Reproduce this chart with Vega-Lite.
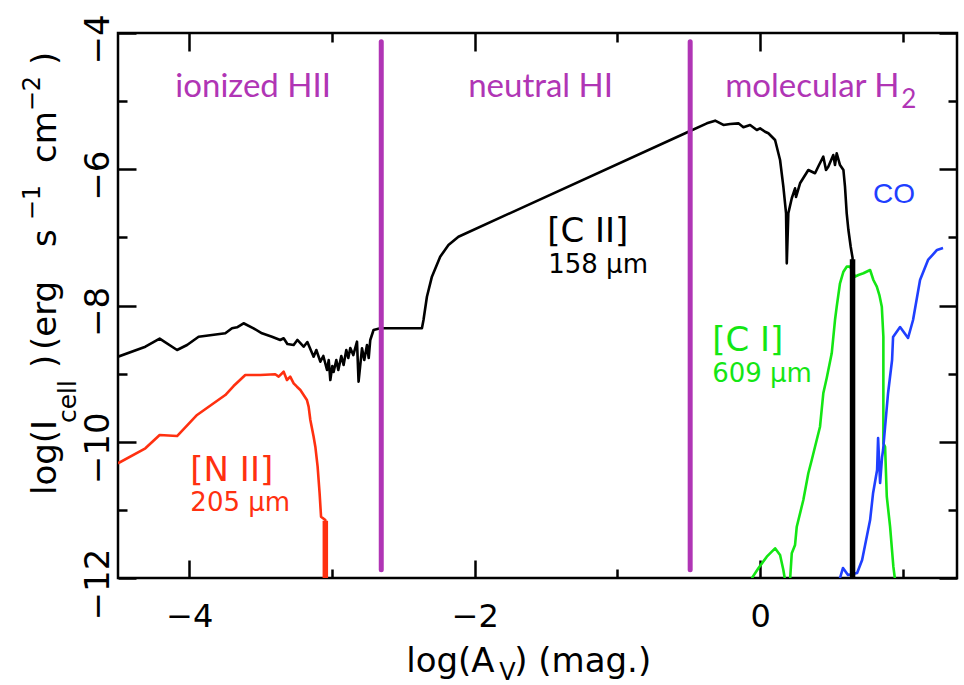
{
  "$schema": "https://vega.github.io/schema/vega-lite/v6.json",
  "width": 839,
  "height": 545,
  "autosize": "none",
  "padding": {"left": 118, "top": 33, "right": 7, "bottom": 107},
  "background": "white",
  "config": {"view": {"stroke": "black", "strokeWidth": 2.5}},
  "datasets": {
    "curves": [
      {"s":"CII","x":-4.5,"y":-8.751},{"s":"CII","x":-4.308,"y":-8.605},{"s":"CII","x":-4.208,"y":-8.487},{"s":"CII","x":-4.086,"y":-8.653},{"s":"CII","x":-4.016,"y":-8.58},{"s":"CII","x":-3.935,"y":-8.458},{"s":"CII","x":-3.748,"y":-8.408},{"s":"CII","x":-3.701,"y":-8.335},{"s":"CII","x":-3.666,"y":-8.32},{"s":"CII","x":-3.62,"y":-8.261},{"s":"CII","x":-3.55,"y":-8.335},{"s":"CII","x":-3.491,"y":-8.408},{"s":"CII","x":-3.421,"y":-8.458},{"s":"CII","x":-3.363,"y":-8.506},{"s":"CII","x":-3.339,"y":-8.481},{"s":"CII","x":-3.313,"y":-8.565},{"s":"CII","x":-3.269,"y":-8.58},{"s":"CII","x":-3.243,"y":-8.506},{"s":"CII","x":-3.199,"y":-8.605},{"s":"CII","x":-3.173,"y":-8.536},{"s":"CII","x":-3.129,"y":-8.751},{"s":"CII","x":-3.11,"y":-8.653},{"s":"CII","x":-3.082,"y":-8.825},{"s":"CII","x":-3.061,"y":-8.741},{"s":"CII","x":-3.035,"y":-8.947},{"s":"CII","x":-3.023,"y":-8.8},{"s":"CII","x":-3.012,"y":-9.094},{"s":"CII","x":-2.998,"y":-8.888},{"s":"CII","x":-2.989,"y":-8.976},{"s":"CII","x":-2.97,"y":-8.8},{"s":"CII","x":-2.956,"y":-8.947},{"s":"CII","x":-2.935,"y":-8.741},{"s":"CII","x":-2.919,"y":-8.873},{"s":"CII","x":-2.9,"y":-8.653},{"s":"CII","x":-2.886,"y":-8.771},{"s":"CII","x":-2.872,"y":-8.624},{"s":"CII","x":-2.851,"y":-8.727},{"s":"CII","x":-2.825,"y":-8.531},{"s":"CII","x":-2.814,"y":-9.119},{"s":"CII","x":-2.79,"y":-8.628},{"s":"CII","x":-2.774,"y":-8.8},{"s":"CII","x":-2.755,"y":-8.58},{"s":"CII","x":-2.743,"y":-8.771},{"s":"CII","x":-2.732,"y":-8.506},{"s":"CII","x":-2.709,"y":-8.36},{"s":"CII","x":-2.662,"y":-8.335},{"s":"CII","x":-2.37,"y":-8.335},{"s":"CII","x":-2.359,"y":-8.213},{"s":"CII","x":-2.335,"y":-7.871},{"s":"CII","x":-2.3,"y":-7.577},{"s":"CII","x":-2.242,"y":-7.284},{"s":"CII","x":-2.184,"y":-7.112},{"s":"CII","x":-2.114,"y":-6.99},{"s":"CII","x":-0.502,"y":-5.449},{"s":"CII","x":-0.373,"y":-5.326},{"s":"CII","x":-0.315,"y":-5.287},{"s":"CII","x":-0.257,"y":-5.35},{"s":"CII","x":-0.21,"y":-5.336},{"s":"CII","x":-0.152,"y":-5.326},{"s":"CII","x":-0.117,"y":-5.384},{"s":"CII","x":-0.07,"y":-5.35},{"s":"CII","x":-0.023,"y":-5.424},{"s":"CII","x":0.0,"y":-5.399},{"s":"CII","x":0.035,"y":-5.449},{"s":"CII","x":0.058,"y":-5.472},{"s":"CII","x":0.105,"y":-5.571},{"s":"CII","x":0.14,"y":-5.864},{"s":"CII","x":0.163,"y":-6.256},{"s":"CII","x":0.182,"y":-6.647},{"s":"CII","x":0.187,"y":-7.381},{"s":"CII","x":0.198,"y":-6.647},{"s":"CII","x":0.222,"y":-6.426},{"s":"CII","x":0.245,"y":-6.28},{"s":"CII","x":0.252,"y":-6.407},{"s":"CII","x":0.28,"y":-6.206},{"s":"CII","x":0.338,"y":-6.011},{"s":"CII","x":0.385,"y":-6.059},{"s":"CII","x":0.413,"y":-5.938},{"s":"CII","x":0.443,"y":-5.816},{"s":"CII","x":0.462,"y":-6.011},{"s":"CII","x":0.478,"y":-5.963},{"s":"CII","x":0.513,"y":-5.791},{"s":"CII","x":0.525,"y":-5.938},{"s":"CII","x":0.537,"y":-5.766},{"s":"CII","x":0.56,"y":-5.938},{"s":"CII","x":0.584,"y":-6.011},{"s":"CII","x":0.595,"y":-6.256},{"s":"CII","x":0.607,"y":-6.647},{"s":"CII","x":0.619,"y":-6.892},{"s":"CII","x":0.635,"y":-7.137},{"s":"CII","x":0.648,"y":-7.3},{"s":"CII","x":0.648,"y":-12.1},
      {"s":"NII","x":-4.5,"y":-10.316},{"s":"NII","x":-4.308,"y":-10.096},{"s":"NII","x":-4.208,"y":-9.901},{"s":"NII","x":-4.086,"y":-9.916},{"s":"NII","x":-3.946,"y":-9.607},{"s":"NII","x":-3.748,"y":-9.314},{"s":"NII","x":-3.69,"y":-9.182},{"s":"NII","x":-3.608,"y":-9.02},{"s":"NII","x":-3.503,"y":-9.02},{"s":"NII","x":-3.398,"y":-9.01},{"s":"NII","x":-3.374,"y":-9.045},{"s":"NII","x":-3.339,"y":-8.972},{"s":"NII","x":-3.316,"y":-9.094},{"s":"NII","x":-3.293,"y":-9.045},{"s":"NII","x":-3.269,"y":-9.142},{"s":"NII","x":-3.246,"y":-9.192},{"s":"NII","x":-3.222,"y":-9.24},{"s":"NII","x":-3.199,"y":-9.314},{"s":"NII","x":-3.176,"y":-9.387},{"s":"NII","x":-3.164,"y":-9.485},{"s":"NII","x":-3.152,"y":-9.681},{"s":"NII","x":-3.129,"y":-9.926},{"s":"NII","x":-3.117,"y":-10.073},{"s":"NII","x":-3.101,"y":-10.366},{"s":"NII","x":-3.087,"y":-10.757},{"s":"NII","x":-3.077,"y":-11.1},{"s":"NII","x":-3.047,"y":-11.15},{"s":"NII","x":-3.047,"y":-12.1},
      {"s":"CI","x":-0.058,"y":-12.004},{"s":"CI","x":-0.012,"y":-11.858},{"s":"CI","x":0.047,"y":-11.687},{"s":"CI","x":0.105,"y":-11.564},{"s":"CI","x":0.14,"y":-11.662},{"s":"CI","x":0.163,"y":-11.883},{"s":"CI","x":0.175,"y":-12.03},{"s":"CI","x":0.21,"y":-12.03},{"s":"CI","x":0.222,"y":-11.637},{"s":"CI","x":0.245,"y":-11.515},{"s":"CI","x":0.257,"y":-11.247},{"s":"CI","x":0.303,"y":-10.855},{"s":"CI","x":0.338,"y":-10.463},{"s":"CI","x":0.362,"y":-10.268},{"s":"CI","x":0.385,"y":-10.073},{"s":"CI","x":0.42,"y":-9.779},{"s":"CI","x":0.443,"y":-9.289},{"s":"CI","x":0.467,"y":-9.064},{"s":"CI","x":0.502,"y":-8.702},{"s":"CI","x":0.525,"y":-8.213},{"s":"CI","x":0.537,"y":-8.017},{"s":"CI","x":0.56,"y":-7.674},{"s":"CI","x":0.584,"y":-7.504},{"s":"CI","x":0.607,"y":-7.43},{"s":"CI","x":0.63,"y":-7.43},{"s":"CI","x":0.666,"y":-7.577},{"s":"CI","x":0.689,"y":-7.552},{"s":"CI","x":0.724,"y":-7.527},{"s":"CI","x":0.771,"y":-7.479},{"s":"CI","x":0.794,"y":-7.626},{"s":"CI","x":0.818,"y":-7.724},{"s":"CI","x":0.836,"y":-7.846},{"s":"CI","x":0.853,"y":-8.017},{"s":"CI","x":0.864,"y":-8.458},{"s":"CI","x":0.864,"y":-9.289},{"s":"CI","x":0.864,"y":-10.023},{"s":"CI","x":0.876,"y":-10.073},{"s":"CI","x":0.888,"y":-10.807},{"s":"CI","x":0.911,"y":-11.247},{"s":"CI","x":0.934,"y":-11.834},{"s":"CI","x":0.946,"y":-12.03},
      {"s":"CO","x":0.56,"y":-12.0},{"s":"CO","x":0.581,"y":-11.853},{"s":"CO","x":0.616,"y":-11.956},{"s":"CO","x":0.68,"y":-11.927},{"s":"CO","x":0.715,"y":-11.736},{"s":"CO","x":0.771,"y":-11.149},{"s":"CO","x":0.792,"y":-10.752},{"s":"CO","x":0.82,"y":-10.415},{"s":"CO","x":0.827,"y":-9.945},{"s":"CO","x":0.841,"y":-10.606},{"s":"CO","x":0.855,"y":-10.224},{"s":"CO","x":0.862,"y":-10.121},{"s":"CO","x":0.876,"y":-9.783},{"s":"CO","x":0.897,"y":-9.284},{"s":"CO","x":0.925,"y":-8.8},{"s":"CO","x":0.932,"y":-8.462},{"s":"CO","x":0.981,"y":-8.316},{"s":"CO","x":1.037,"y":-8.477},{"s":"CO","x":1.072,"y":-8.213},{"s":"CO","x":1.121,"y":-7.626},{"s":"CO","x":1.177,"y":-7.332},{"s":"CO","x":1.24,"y":-7.185},{"s":"CO","x":1.282,"y":-7.156}
    ],
    "drops": [
      {"s":"CII","x":0.648,"y":-7.32,"y2":-12.0},
      {"s":"NII","x":-3.047,"y":-11.16,"y2":-12.0}
    ],
    "bounds": [
      {"s":"region","x":-2.655,"y":-4.13,"y2":-11.88},
      {"s":"region","x":-0.49,"y":-4.13,"y2":-11.88}
    ],
    "regions": [
      {"t":"ionized HII","x":-4.098,"y":-4.94},
      {"t":"neutral HI","x":-2.046,"y":-4.94},
      {"t":"molecular H","x":-0.245,"y":-4.94}
    ],
    "sub2": [{"t":"2","x":0.99,"y":-5.101}],
    "lab1": [
      {"s":"CII","t":"[C II]","x":-1.492,"y":-7.068},
      {"s":"NII","t":"[N II]","x":-3.993,"y":-10.576},
      {"s":"CI","t":"[C I]","x":-0.336,"y":-8.668}
    ],
    "lab2": [
      {"s":"CII","t":"158 μm","x":-1.485,"y":-7.523},
      {"s":"NII","t":"205 μm","x":-3.993,"y":-11.017},
      {"s":"CI","t":"609 μm","x":-0.336,"y":-9.123}
    ],
    "co": [{"t":"CO","x":0.792,"y":-6.495}],
    "xt": [{"t":"log(A","x":-2.48,"y":-13.38},{"t":") (mag.)","x":-1.723,"y":-13.38}],
    "xs": [{"t":"V","x":-1.828,"y":-13.49}],
    "yt": [
      {"t":"log(I","x":-4.932,"y":-10.782},
      {"t":")","x":-4.932,"y":-8.917},
      {"t":"(erg","x":-4.932,"y":-8.653},
      {"t":"s","x":-4.932,"y":-7.141},
      {"t":"cm","x":-4.932,"y":-5.908},
      {"t":")","x":-4.932,"y":-4.47}
    ],
    "ysup": [
      {"t":"−1","x":-5.044,"y":-6.75},
      {"t":"−2","x":-5.044,"y":-5.15}
    ],
    "ysub": [{"t":"cell","x":-4.792,"y":-9.725}]
  },
  "layer": [
    {
      "data": {"name": "curves"},
      "mark": {"type": "line", "strokeWidth": 2.6, "strokeJoin": "round", "clip": true},
      "encoding": {
        "x": {"field": "x", "type": "quantitative", "scale": {"domain": [-4.5, 1.38], "nice": false, "zero": false},
          "axis": {"orient": "bottom", "values": [-4, -2, 0], "ticks": false, "domain": false, "grid": false, "labelFont": "DejaVu Sans", "labelFontSize": 32, "labelColor": "black", "labelPadding": 23, "labelBaseline": "top", "labelFlush": false, "labelOverlap": false, "labelBound": false, "title": null}},
        "y": {"field": "y", "type": "quantitative", "scale": {"domain": [-12, -4], "nice": false, "zero": false},
          "axis": {"orient": "left", "values": [-12, -10, -8, -6, -4], "ticks": false, "domain": false, "grid": false, "labelFont": "DejaVu Sans", "labelFontSize": 34, "labelColor": "black", "labelAngle": -90, "labelAlign": "center", "labelBaseline": "alphabetic", "labelPadding": 10, "labelOffset": 6, "labelFlush": false, "labelOverlap": false, "labelBound": false, "title": null}},
        "color": {"field": "s", "type": "nominal", "scale": {"domain": ["CII", "NII", "CI", "CO", "region"], "range": ["#000000", "#ff3010", "#14e614", "#1f3fff", "#b035b5"]}, "legend": null},
        "order": {"value": null}
      }
    },
    {
      "data": {"name": "bounds"},
      "mark": {"type": "rule", "strokeWidth": 5, "strokeCap": "round"},
      "encoding": {
        "x": {"field": "x", "type": "quantitative", "scale": {"domain": [-4.5, 1.38], "nice": false, "zero": false},
          "axis": {"orient": "bottom", "values": [-4, -2, 0], "labels": false, "domain": false, "grid": false, "ticks": true, "tickSize": 18, "offset": -18, "tickWidth": 2.5, "tickColor": "black", "title": null}},
        "y": {"field": "y", "type": "quantitative", "scale": {"domain": [-12, -4], "nice": false, "zero": false},
          "axis": {"orient": "left", "values": [-12, -10, -8, -6, -4], "labels": false, "domain": false, "grid": false, "ticks": true, "tickSize": 18, "offset": -18, "tickWidth": 2.5, "tickColor": "black", "title": null}},
        "y2": {"field": "y2"},
        "color": {"field": "s", "type": "nominal", "scale": {"domain": ["CII", "NII", "CI", "CO", "region"], "range": ["#000000", "#ff3010", "#14e614", "#1f3fff", "#b035b5"]}, "legend": null}
      }
    },
    {
      "data": {"name": "drops"},
      "mark": {"type": "rule", "strokeWidth": 5.5, "clip": true},
      "encoding": {
        "x": {"field": "x", "type": "quantitative", "scale": {"domain": [-4.5, 1.38], "nice": false, "zero": false}, "axis": null},
        "y": {"field": "y", "type": "quantitative", "scale": {"domain": [-12, -4], "nice": false, "zero": false}, "axis": null},
        "y2": {"field": "y2"},
        "color": {"field": "s", "type": "nominal", "scale": {"domain": ["CII", "NII", "CI", "CO", "region"], "range": ["#000000", "#ff3010", "#14e614", "#1f3fff", "#b035b5"]}, "legend": null}
      }
    },
    {
      "data": {"name": "regions"},
      "mark": {"type": "text", "font": "Lato", "fontSize": 33, "color": "#b035b5", "align": "left", "baseline": "alphabetic"},
      "encoding": {
        "x": {"field": "x", "type": "quantitative", "scale": {"domain": [-4.5, 1.38], "nice": false, "zero": false},
          "axis": {"orient": "bottom", "values": [-3, -1, 1], "labels": false, "domain": false, "grid": false, "ticks": true, "tickSize": 9, "offset": -9, "tickWidth": 2.5, "tickColor": "black", "title": null}},
        "y": {"field": "y", "type": "quantitative", "scale": {"domain": [-12, -4], "nice": false, "zero": false},
          "axis": {"orient": "left", "values": [-11, -9, -7, -5], "labels": false, "domain": false, "grid": false, "ticks": true, "tickSize": 9, "offset": -9, "tickWidth": 2.5, "tickColor": "black", "title": null}},
        "text": {"field": "t"}
      }
    },
    {
      "data": {"name": "lab1"},
      "mark": {"type": "text", "font": "DejaVu Sans", "fontSize": 34, "align": "left", "baseline": "alphabetic"},
      "encoding": {
        "x": {"field": "x", "type": "quantitative", "scale": {"domain": [-4.5, 1.38], "nice": false, "zero": false},
          "axis": {"orient": "top", "values": [-4, -2, 0], "labels": false, "domain": false, "grid": false, "ticks": true, "tickSize": 18, "offset": -18, "tickWidth": 2.5, "tickColor": "black", "title": null}},
        "y": {"field": "y", "type": "quantitative", "scale": {"domain": [-12, -4], "nice": false, "zero": false},
          "axis": {"orient": "right", "values": [-12, -10, -8, -6, -4], "labels": false, "domain": false, "grid": false, "ticks": true, "tickSize": 18, "offset": -18, "tickWidth": 2.5, "tickColor": "black", "title": null}},
        "color": {"field": "s", "type": "nominal", "scale": {"domain": ["CII", "NII", "CI", "CO", "region"], "range": ["#000000", "#ff3010", "#14e614", "#1f3fff", "#b035b5"]}, "legend": null},
        "text": {"field": "t"}
      }
    },
    {
      "data": {"name": "lab2"},
      "mark": {"type": "text", "font": "DejaVu Sans", "fontSize": 26, "align": "left", "baseline": "alphabetic"},
      "encoding": {
        "x": {"field": "x", "type": "quantitative", "scale": {"domain": [-4.5, 1.38], "nice": false, "zero": false},
          "axis": {"orient": "top", "values": [-3, -1, 1], "labels": false, "domain": false, "grid": false, "ticks": true, "tickSize": 9, "offset": -9, "tickWidth": 2.5, "tickColor": "black", "title": null}},
        "y": {"field": "y", "type": "quantitative", "scale": {"domain": [-12, -4], "nice": false, "zero": false},
          "axis": {"orient": "right", "values": [-11, -9, -7, -5], "labels": false, "domain": false, "grid": false, "ticks": true, "tickSize": 9, "offset": -9, "tickWidth": 2.5, "tickColor": "black", "title": null}},
        "color": {"field": "s", "type": "nominal", "scale": {"domain": ["CII", "NII", "CI", "CO", "region"], "range": ["#000000", "#ff3010", "#14e614", "#1f3fff", "#b035b5"]}, "legend": null},
        "text": {"field": "t"}
      }
    },
    {
      "data": {"name": "sub2"},
      "mark": {"type": "text", "font": "Lato", "fontSize": 26, "color": "#b035b5", "align": "left", "baseline": "alphabetic"},
      "encoding": {
        "x": {"field": "x", "type": "quantitative", "scale": {"domain": [-4.5, 1.38], "nice": false, "zero": false}, "axis": null},
        "y": {"field": "y", "type": "quantitative", "scale": {"domain": [-12, -4], "nice": false, "zero": false}, "axis": null},
        "text": {"field": "t"}
      }
    },
    {
      "data": {"name": "co"},
      "mark": {"type": "text", "font": "Liberation Sans", "fontSize": 28, "color": "#1f3fff", "align": "left", "baseline": "alphabetic"},
      "encoding": {
        "x": {"field": "x", "type": "quantitative", "scale": {"domain": [-4.5, 1.38], "nice": false, "zero": false}, "axis": null},
        "y": {"field": "y", "type": "quantitative", "scale": {"domain": [-12, -4], "nice": false, "zero": false}, "axis": null},
        "text": {"field": "t"}
      }
    },
    {
      "data": {"name": "xt"},
      "mark": {"type": "text", "font": "DejaVu Sans", "fontSize": 34, "color": "black", "align": "left", "baseline": "alphabetic"},
      "encoding": {
        "x": {"field": "x", "type": "quantitative", "scale": {"domain": [-4.5, 1.38], "nice": false, "zero": false}, "axis": null},
        "y": {"field": "y", "type": "quantitative", "scale": {"domain": [-12, -4], "nice": false, "zero": false}, "axis": null},
        "text": {"field": "t"}
      }
    },
    {
      "data": {"name": "xs"},
      "mark": {"type": "text", "font": "DejaVu Sans", "fontSize": 24, "color": "black", "align": "left", "baseline": "alphabetic"},
      "encoding": {
        "x": {"field": "x", "type": "quantitative", "scale": {"domain": [-4.5, 1.38], "nice": false, "zero": false}, "axis": null},
        "y": {"field": "y", "type": "quantitative", "scale": {"domain": [-12, -4], "nice": false, "zero": false}, "axis": null},
        "text": {"field": "t"}
      }
    },
    {
      "data": {"name": "yt"},
      "mark": {"type": "text", "font": "DejaVu Sans", "fontSize": 34, "color": "black", "align": "left", "baseline": "alphabetic", "angle": -90},
      "encoding": {
        "x": {"field": "x", "type": "quantitative", "scale": {"domain": [-4.5, 1.38], "nice": false, "zero": false}, "axis": null},
        "y": {"field": "y", "type": "quantitative", "scale": {"domain": [-12, -4], "nice": false, "zero": false}, "axis": null},
        "text": {"field": "t"}
      }
    },
    {
      "data": {"name": "ysup"},
      "mark": {"type": "text", "font": "DejaVu Sans", "fontSize": 24, "color": "black", "align": "left", "baseline": "alphabetic", "angle": -90},
      "encoding": {
        "x": {"field": "x", "type": "quantitative", "scale": {"domain": [-4.5, 1.38], "nice": false, "zero": false}, "axis": null},
        "y": {"field": "y", "type": "quantitative", "scale": {"domain": [-12, -4], "nice": false, "zero": false}, "axis": null},
        "text": {"field": "t"}
      }
    },
    {
      "data": {"name": "ysub"},
      "mark": {"type": "text", "font": "DejaVu Sans", "fontSize": 25, "color": "black", "align": "left", "baseline": "alphabetic", "angle": -90},
      "encoding": {
        "x": {"field": "x", "type": "quantitative", "scale": {"domain": [-4.5, 1.38], "nice": false, "zero": false}, "axis": null},
        "y": {"field": "y", "type": "quantitative", "scale": {"domain": [-12, -4], "nice": false, "zero": false}, "axis": null},
        "text": {"field": "t"}
      }
    }
  ],
  "resolve": {"axis": {"x": "independent", "y": "independent"}}
}
